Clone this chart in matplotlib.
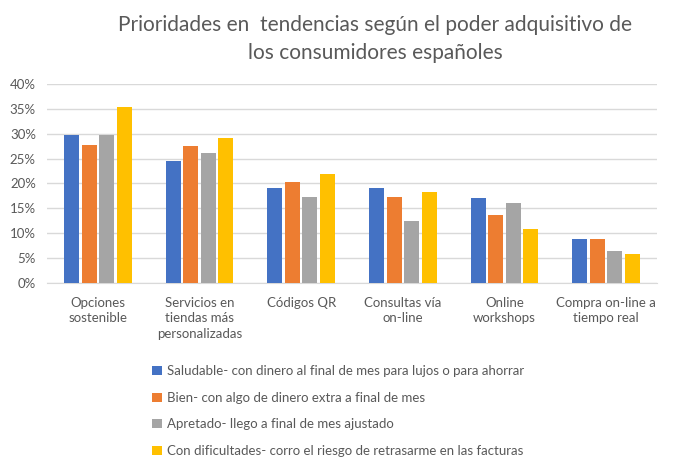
import numpy as np
import matplotlib.pyplot as plt

plt.rcParams['font.family'] = ['Lato', 'DejaVu Sans']

# Datos
categorias = ['Opciones\nsostenible', 'Servicios en\ntiendas más\npersonalizadas', 'Códigos QR',
              'Consultas vía\non-line', 'Online\nworkshops', 'Compra on-line a\ntiempo real']
series = ['Saludable- con dinero al final de mes para lujos o para ahorrar',
          'Bien- con algo de dinero extra a final de mes',
          'Apretado- llego a final de mes ajustado',
          'Con dificultades- corro el riesgo de retrasarme en las facturas']
saludable = [29.8, 24.6, 19.0, 19.0, 17.0, 8.9]
bien = [27.8, 27.6, 20.4, 17.2, 13.6, 8.9]
apretado = [29.8, 26.2, 17.2, 12.5, 16.0, 6.5]
dificultades = [35.4, 29.2, 22.0, 18.2, 10.9, 5.9]
colores = ['#4472C4', '#ED7D31', '#A5A5A5', '#FFC000']

fig = plt.figure(figsize=(6.74, 4.70), dpi=100)
ax = fig.add_axes([47/674, 1 - 283/470, 610/674, 199/470])

x = np.arange(len(categorias))
ancho = 0.147
paso = 0.172
for i, (vals, nombre) in enumerate(zip([saludable, bien, apretado, dificultades], series)):
    ax.bar(x + (i - 1.5) * paso, vals, ancho, color=colores[i], label=nombre, zorder=3)

gris = '#595959'
ax.set_ylim(0, 40)
ax.set_xlim(-0.5, 5.5)
ax.set_yticks(range(0, 41, 5))
ax.set_yticklabels([f'{v}%' for v in range(0, 41, 5)], color=gris, fontsize=9.5)
ax.set_xticks(x)
ax.set_xticklabels(categorias, color=gris, fontsize=9.5, va='top', linespacing=1.35)
ax.tick_params(length=0, pad=8)
ax.tick_params(axis='x', pad=10)
ax.grid(axis='y', color='#D9D9D9', linewidth=1, zorder=0)
for s in ['top', 'right', 'left']:
    ax.spines[s].set_visible(False)
ax.spines['bottom'].set_color('#D9D9D9')

fig.text(375/674, 1 - 39/470, 'Prioridades en  tendencias según el poder adquisitivo de\nlos consumidores españoles',
         ha='center', va='center', fontsize=15, color=gris, linespacing=1.5)

fig.legend(loc='upper left', bbox_to_anchor=(147/674, 1 - 360/470), frameon=False,
           fontsize=9.5, labelcolor=gris, handlelength=0.7, handleheight=0.7,
           handletextpad=0.4, labelspacing=1.1, borderaxespad=0)

fig.savefig('out.png', dpi=100)
